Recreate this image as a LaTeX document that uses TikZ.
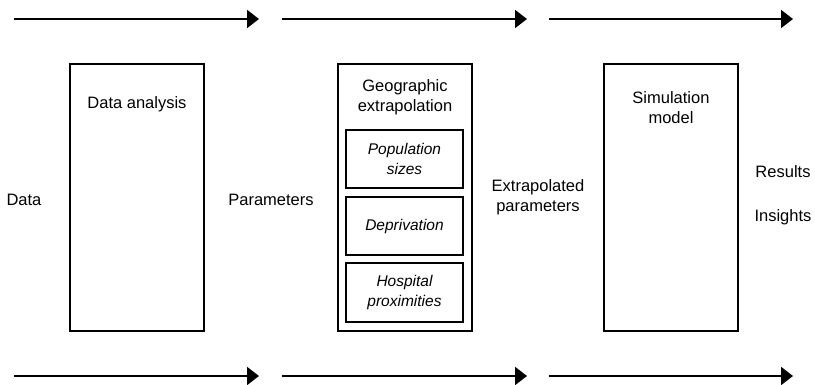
\documentclass[tikz,border=0pt]{standalone}
\usepackage{fontspec}
\setmainfont{Liberation Sans}
\usetikzlibrary{arrows.meta}
\begin{document}
\begin{tikzpicture}[x=1pt,y=-1pt,
  txt/.style={inner sep=0pt, align=center, font=\fontsize{16.5}{20}\selectfont},
  stage/.style={draw, line width=2pt, minimum width=134pt, minimum height=267pt, inner sep=0pt},
  factor/.style={draw, line width=2pt, minimum width=117pt, minimum height=58pt, inner sep=0pt,
    align=center, font=\fontsize{15.5}{19.5}\selectfont\itshape},
  flow/.style={line width=2pt, -{Triangle[length=12pt,width=18pt]}}
]
\useasboundingbox (0,0) rectangle (815,385);

% processing stages
\node[stage] (analysis) at (137,197.5) {};
\node[stage] (geo) at (405,197.5) {};
\node[stage] (sim) at (671,197.5) {};

% stage titles
\node[txt] (analysisT) at (137,104) {Data analysis};
\node[txt] (geoT) at (405,97) {Geographic\\extrapolation};
\node[txt] (simT) at (671,108) {Simulation\\model};

% extrapolation factors
\node[factor] (pop) at (404.5,159) {Population\\sizes};
\node[factor] (dep) at (404.5,226) {Deprivation};
\node[factor] (hosp) at (404.5,292.5) {Hospital\\proximities};

% inputs and outputs between stages
\node[txt] (data) at (24,200) {Data};
\node[txt] (params) at (271,200) {Parameters};
\node[txt] (expar) at (538,197) {Extrapolated\\parameters};
\node[txt] (results) at (783,172) {Results};
\node[txt] (insights) at (783,217) {Insights};

% flow arrows, top and bottom
\coordinate (t0) at (14,19);   \coordinate (t1) at (259,19);
\coordinate (t2) at (282,19);  \coordinate (t3) at (527,19);
\coordinate (t4) at (549,19);  \coordinate (t5) at (793,19);
\coordinate (b0) at (14,376);  \coordinate (b1) at (259,376);
\coordinate (b2) at (282,376); \coordinate (b3) at (527,376);
\coordinate (b4) at (549,376); \coordinate (b5) at (793,376);
\draw[flow] (t0) -- (t1);
\draw[flow] (t2) -- (t3);
\draw[flow] (t4) -- (t5);
\draw[flow] (b0) -- (b1);
\draw[flow] (b2) -- (b3);
\draw[flow] (b4) -- (b5);
\end{tikzpicture}
\end{document}
